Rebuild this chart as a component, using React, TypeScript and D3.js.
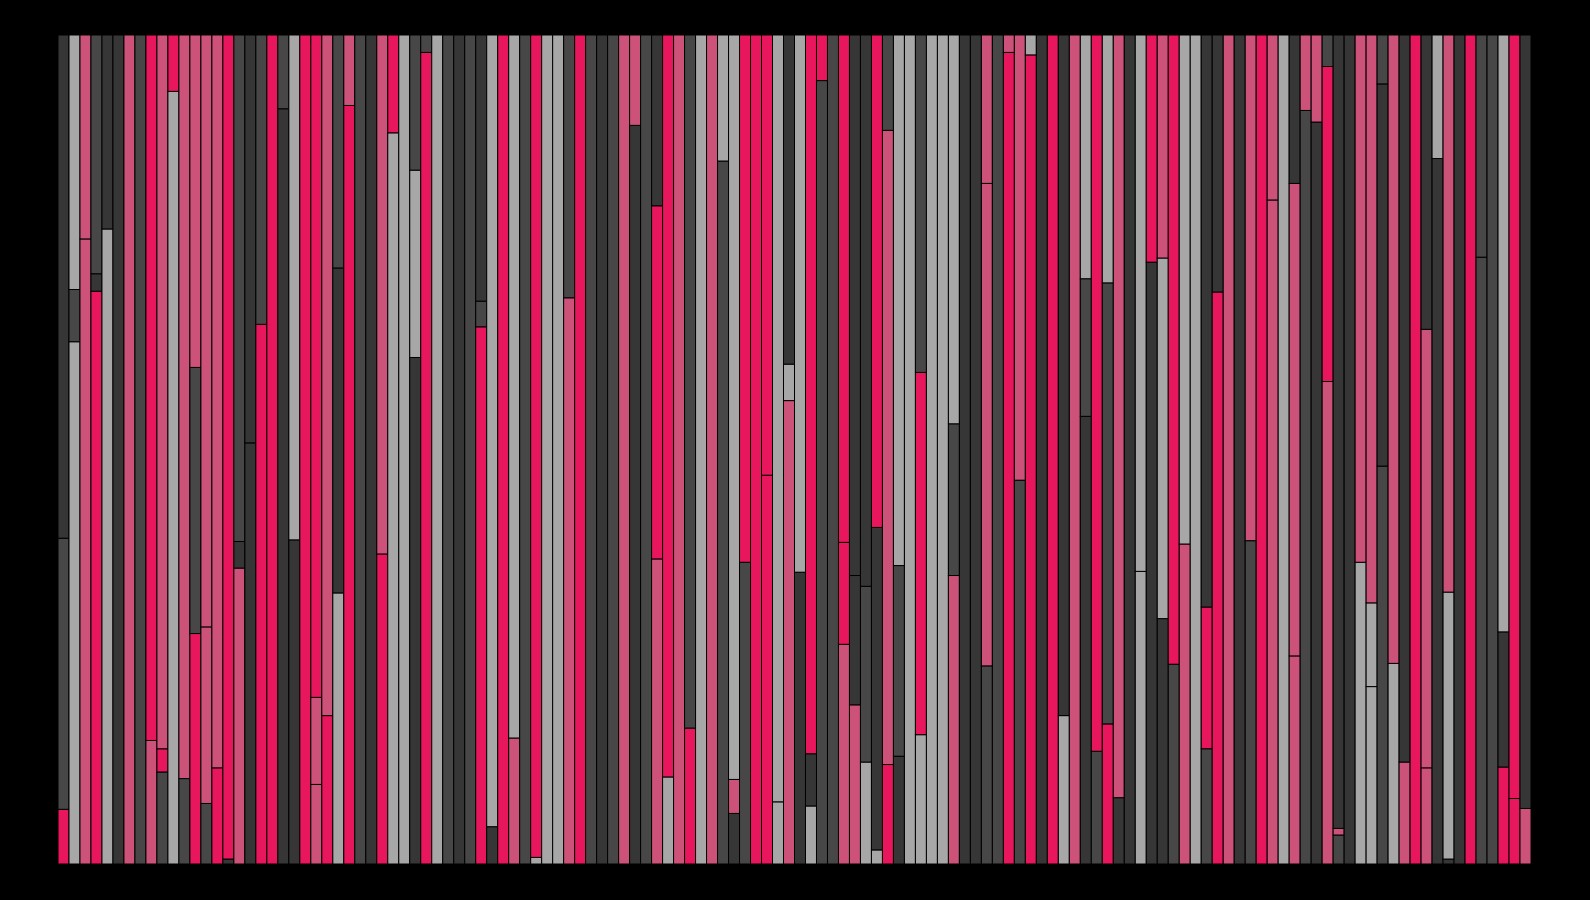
import React, { useEffect, useRef } from "react";
import * as d3 from "d3";

const WIDTH = 1590;
const HEIGHT = 900;

const palette: Record<string, string> = {
  A: "#e8175d",
  R: "#cc527a",
  L: "#a8a7a7",
  D: "#474747",
  K: "#363636",
};

// colour key of every segment, bottom to top
const stackKeys: string[] = [
  "ADK", "LDL", "RR", "AKD", "LK", "K", "R", "D", "RA", "DAR",
  "LA", "DR", "ADR", "DRR", "AR", "KA", "RKD", "KK", "AD", "A",
  "KD", "KL", "A", "RRA", "AR", "LKD", "AR", "D", "K", "AR",
  "LA", "L", "KLD", "AD", "L", "D", "K", "D", "ADK", "KL",
  "A", "RL", "D", "LA", "L", "L", "RD", "A", "D", "K",
  "D", "R", "KR", "D", "RAK", "LA", "R", "AD", "L", "R",
  "DL", "KRL", "DA", "A", "AA", "LL", "RLK", "KL", "LKA", "DA",
  "D", "RAA", "RKK", "LDK", "LKA", "ARD", "KDL", "L", "LAD", "L",
  "L", "RDL", "K", "K", "DRR", "D", "AR", "DR", "AL", "K",
  "A", "LK", "R", "KDL", "DA", "ADL", "KR", "K", "LL", "KA",
  "KLR", "DA", "RL", "L", "DAK", "AK", "R", "K", "DR", "A",
  "RR", "L", "RRK", "DR", "KR", "RAD", "DRK", "K", "LR", "LLR",
  "DKD", "LR", "RK", "A", "RRK", "KL", "KLR", "K", "A", "DD",
  "D", "AKL", "AA", "RK",
];

// share of every segment in percent, bottom to top
const stackValues: number[][] = [
  [6.6, 32.7, 60.7], [63.0, 6.3, 30.7], [75.4, 24.6], [69.1, 2.1, 28.8], [76.6, 23.4],
  [100], [100], [100], [14.9, 85.1], [11.1, 2.8, 86.1],
  [93.2, 6.8], [10.3, 89.7], [27.8, 32.1, 40.1], [7.3, 21.3, 71.4], [11.6, 88.4],
  [0.6, 99.4], [35.7, 3.2, 61.1], [50.8, 49.2], [65.1, 34.9], [100],
  [91.1, 8.9], [39.1, 60.9], [100], [9.6, 10.5, 79.9], [17.9, 82.1],
  [32.7, 39.2, 28.1], [91.5, 8.5], [100], [100], [37.4, 62.6],
  [88.2, 11.8], [100], [61.1, 22.6, 16.3], [97.9, 2.1], [100],
  [100], [100], [100], [64.8, 3.1, 32.1], [4.5, 95.5],
  [100], [15.2, 84.8], [100], [0.8, 99.2], [100],
  [100], [68.3, 31.7], [100], [100], [100],
  [100], [100], [89.1, 10.9], [100], [36.8, 42.6, 20.6],
  [10.5, 89.5], [100], [16.4, 83.6], [100], [100],
  [84.8, 15.2], [6.1, 4.1, 89.8], [36.4, 63.6], [100], [46.9, 53.1],
  [7.5, 92.5], [55.9, 4.4, 39.7], [35.2, 64.8], [7.0, 6.3, 86.7], [94.5, 5.5],
  [100], [26.5, 12.3, 61.2], [19.2, 15.6, 65.2], [12.3, 21.2, 66.5], [1.7, 38.9, 59.4],
  [12.0, 76.5, 11.5], [13.0, 23.0, 64.0], [100], [15.6, 43.7, 40.7], [100],
  [100], [34.8, 18.3, 46.9], [100], [100], [23.9, 58.2, 17.9],
  [100], [97.9, 2.1], [46.3, 53.7], [97.6, 2.4], [100],
  [100], [17.9, 82.1], [100], [54.0, 16.6, 29.4], [13.6, 86.4],
  [16.9, 53.2, 29.9], [8.0, 92.0], [100], [35.3, 64.7], [72.6, 27.4],
  [29.6, 43.5, 26.9], [24.1, 75.9], [38.6, 61.4], [100], [13.9, 17.1, 69.0],
  [69.0, 31.0], [100], [100], [39.0, 61.0], [100],
  [80.1, 19.9], [100], [25.1, 57.0, 17.9], [90.9, 9.1], [89.5, 10.5],
  [58.2, 38.0, 3.8], [3.5, 0.8, 95.7], [100], [36.4, 63.6], [21.4, 10.1, 68.5],
  [48.0, 46.1, 5.9], [24.2, 75.8], [12.3, 87.7], [100], [11.6, 52.9, 35.5],
  [85.1, 14.9], [0.6, 32.2, 67.2], [100], [100], [73.2, 26.8],
  [100], [11.7, 16.3, 72.0], [7.9, 92.1], [6.7, 93.3],
];

const categories = stackKeys.map((_, i) => `c${i + 1}`);

export default function App() {
  const svgRef = useRef<SVGSVGElement>(null);

  useEffect(() => {
    if (!svgRef.current) return;
    document.body.style.margin = "0";
    document.body.style.background = "#000";

    const margin = { top: 35, right: 59, bottom: 36, left: 58 };

    const svg = d3.select(svgRef.current);
    svg.selectAll("*").remove();

    const x = d3.scaleBand()
      .domain(categories)
      .range([margin.left, WIDTH - margin.right])
      .padding(0);

    const y = d3.scaleLinear()
      .domain([0, 100])
      .range([HEIGHT - margin.bottom, margin.top]);

    // flatten to segments with running totals (100% stacked)
    const segments: any[] = [];
    categories.forEach((cat, i) => {
      const vals = stackValues[i];
      const total = d3.sum(vals);
      let acc = 0;
      vals.forEach((v, j) => {
        const share = (v / total) * 100;
        segments.push({ cat, key: stackKeys[i][j], y0: acc, y1: acc + share });
        acc += share;
      });
    });

    svg.append("g")
      .selectAll("rect")
      .data(segments)
      .enter()
      .append("rect")
      .attr("x", d => x(d.cat)!)
      .attr("width", x.bandwidth())
      .attr("y", d => y(d.y1))
      .attr("height", d => y(d.y0) - y(d.y1))
      .attr("fill", d => palette[d.key])
      .attr("stroke", "#000")
      .attr("stroke-width", 1);
  }, []);

  return (
    <div style={{ position: "fixed", left: 0, top: 0, width: WIDTH, height: HEIGHT, background: "#000" }}>
      <svg ref={svgRef} width={WIDTH} height={HEIGHT} style={{ display: "block" }} />
    </div>
  );
}
